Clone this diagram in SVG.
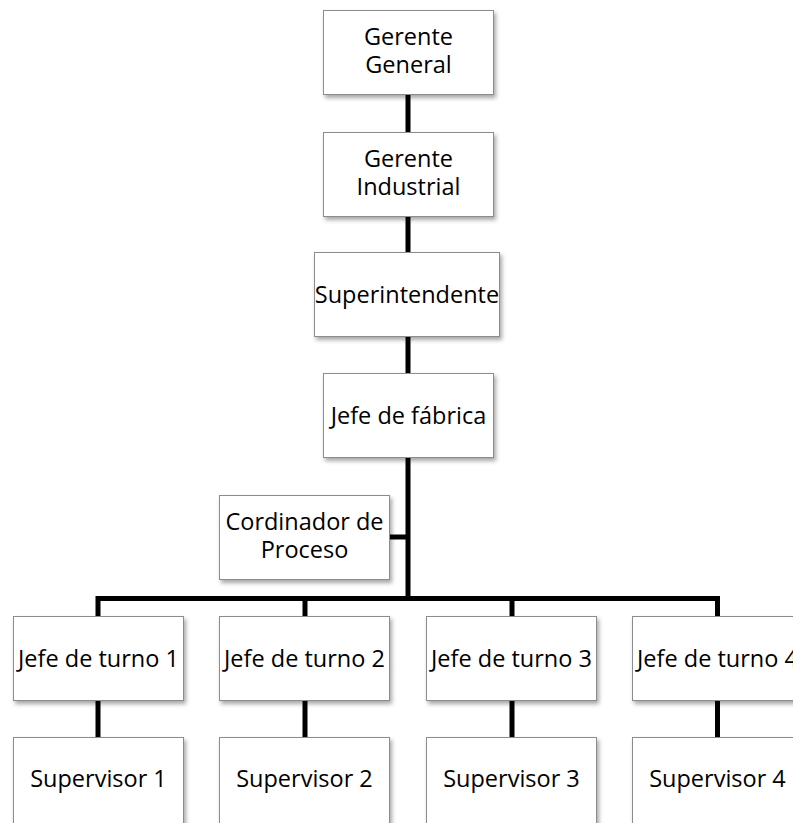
<svg xmlns="http://www.w3.org/2000/svg" width="793" height="823" viewBox="0 0 793 823">
  <defs>
    <filter id="shadow" x="-10%" y="-10%" width="130%" height="140%">
      <feDropShadow dx="2" dy="3" stdDeviation="2" flood-color="#000" flood-opacity="0.35"/>
    </filter>
  </defs>
  <style>
    .box { fill: #ffffff; stroke: #8c8c8c; stroke-width: 1; filter: url(#shadow); }
    .lbl { font-family: "Open Sans", "Noto Sans", sans-serif; font-size: 23.5px; fill: #000; text-anchor: middle; }
    .link { fill: none; stroke: #000; stroke-width: 5; stroke-linejoin: miter; stroke-linecap: butt; }
  </style>
  <rect width="793" height="823" fill="#ffffff"/>

  <!-- connectors -->
  <g id="connectors">
    <path class="link" d="M408 94 V132"/>
    <path class="link" d="M408 216 V252"/>
    <path class="link" d="M408 337 V373"/>
    <path class="link" d="M408 458 V598.5"/>
    <path class="link" d="M390 537 H408"/>
    <path class="link" d="M98 616 V598.5 H717.5 V616"/>
    <path class="link" d="M305 598.5 V616"/>
    <path class="link" d="M512 598.5 V616"/>
    <path class="link" d="M98 701 V737"/>
    <path class="link" d="M305 701 V737"/>
    <path class="link" d="M512 701 V737"/>
    <path class="link" d="M717.5 701 V737"/>
  </g>

  <g id="gerente-general">
    <rect class="box" x="323.5" y="10.5" width="170" height="84"/>
    <text class="lbl" x="408.5" y="45">Gerente</text>
    <text class="lbl" x="408.5" y="73">General</text>
  </g>
  <g id="gerente-industrial">
    <rect class="box" x="323.5" y="132.5" width="170" height="84"/>
    <text class="lbl" x="408.5" y="167">Gerente</text>
    <text class="lbl" x="408.5" y="195">Industrial</text>
  </g>
  <g id="superintendente">
    <rect class="box" x="314.5" y="252.5" width="185" height="84"/>
    <text class="lbl" x="407" y="303">Superintendente</text>
  </g>
  <g id="jefe-fabrica">
    <rect class="box" x="323.5" y="373.5" width="170" height="84"/>
    <text class="lbl" x="408.5" y="424">Jefe de fábrica</text>
  </g>
  <g id="cordinador">
    <rect class="box" x="219.5" y="495.5" width="170" height="84"/>
    <text class="lbl" x="304.5" y="530">Cordinador de</text>
    <text class="lbl" x="304.5" y="558">Proceso</text>
  </g>

  <g id="jefe-turno-1">
    <rect class="box" x="13.5" y="616.5" width="170" height="84"/>
    <text class="lbl" x="98.5" y="667">Jefe de turno 1</text>
  </g>
  <g id="jefe-turno-2">
    <rect class="box" x="219.5" y="616.5" width="170" height="84"/>
    <text class="lbl" x="304.5" y="667">Jefe de turno 2</text>
  </g>
  <g id="jefe-turno-3">
    <rect class="box" x="426.5" y="616.5" width="170" height="84"/>
    <text class="lbl" x="511.5" y="667">Jefe de turno 3</text>
  </g>
  <g id="jefe-turno-4">
    <rect class="box" x="632.5" y="616.5" width="170" height="84"/>
    <text class="lbl" x="717.5" y="667">Jefe de turno 4</text>
  </g>

  <g id="supervisor-1">
    <rect class="box" x="13.5" y="737.5" width="170" height="95"/>
    <text class="lbl" x="98.5" y="787">Supervisor 1</text>
  </g>
  <g id="supervisor-2">
    <rect class="box" x="219.5" y="737.5" width="170" height="95"/>
    <text class="lbl" x="304.5" y="787">Supervisor 2</text>
  </g>
  <g id="supervisor-3">
    <rect class="box" x="426.5" y="737.5" width="170" height="95"/>
    <text class="lbl" x="511.5" y="787">Supervisor 3</text>
  </g>
  <g id="supervisor-4">
    <rect class="box" x="632.5" y="737.5" width="170" height="95"/>
    <text class="lbl" x="717.5" y="787">Supervisor 4</text>
  </g>
</svg>
